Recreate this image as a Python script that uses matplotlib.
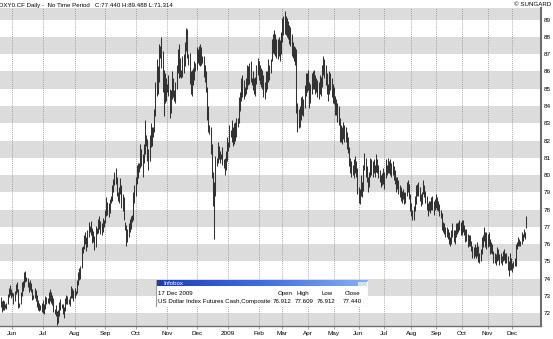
import matplotlib.pyplot as plt
import numpy as np
import pandas as pd
from matplotlib.patches import Rectangle
from matplotlib.colors import LinearSegmentedColormap

plt.rcParams['font.family'] = ['Liberation Sans', 'DejaVu Sans']

# daily bars, low / high per month (2008 has Sunday sessions, 2009 weekdays only)
lo_may08 = [72.35, 72.05, 72.20, 72.15, 72.30, 72.25, 72.55, 72.95, 73.05, 72.85]
hi_may08 = [72.95, 72.70, 72.75, 72.70, 72.50, 72.60, 73.10, 73.45, 73.65, 73.40]
lo_jun08 = [73.00, 72.55, 72.70, 73.10, 73.20, 72.30, 72.35, 72.50, 73.00, 73.30, 73.50, 73.80, 73.85,
            73.50, 73.20, 73.35, 73.20, 72.75, 72.80, 72.90, 72.70, 72.35, 72.20, 72.10, 72.20, 72.05]
hi_jun08 = [73.20, 73.15, 73.30, 73.70, 73.80, 73.40, 72.60, 73.20, 73.80, 73.85, 74.40, 74.45, 74.10,
            74.05, 73.80, 73.90, 73.75, 73.40, 73.05, 73.45, 73.35, 73.05, 72.75, 72.60, 72.45, 72.60]
lo_jul08 = [72.00, 71.95, 72.25, 72.55, 72.60, 72.55, 72.70, 72.60, 72.45, 72.05, 71.95, 71.85, 71.31, 71.45,
            71.85, 72.20, 72.30, 71.95, 71.70, 72.10, 72.55, 72.50, 72.55, 72.40, 72.85, 72.90, 72.70]
hi_jul08 = [72.75, 72.55, 73.00, 72.95, 72.85, 73.20, 73.40, 73.20, 73.05, 72.85, 72.25, 72.45, 72.10, 72.20,
            72.65, 72.80, 72.55, 72.50, 72.35, 72.85, 73.05, 73.00, 72.80, 73.00, 73.55, 73.45, 73.35]
lo_aug08 = [72.85, 73.05, 73.15, 73.60, 73.90, 74.00, 74.60, 75.50, 75.70, 76.00, 75.60, 75.80, 76.40,
            76.70, 76.55, 76.05, 76.10, 75.65, 75.85, 76.60, 76.65, 76.90, 76.60, 76.50, 76.70, 77.00]
hi_aug08 = [73.45, 73.30, 73.90, 74.40, 74.60, 74.70, 75.85, 75.90, 76.55, 76.70, 76.40, 76.80, 77.30,
            77.05, 77.35, 76.95, 76.75, 76.45, 77.05, 76.95, 77.45, 77.60, 77.35, 77.20, 77.50, 77.40]
lo_sep08 = [77.20, 77.60, 77.70, 77.55, 77.80, 78.40, 78.50, 79.00, 79.40, 79.50, 78.80, 78.50, 78.40,
            78.90, 78.10, 77.90, 77.40, 76.80, 75.90, 76.10, 76.40, 76.70, 76.90, 77.30, 77.40, 78.40]
hi_sep08 = [77.95, 78.70, 78.45, 78.35, 78.60, 78.80, 79.40, 79.75, 80.15, 80.40, 79.90, 79.00, 79.30,
            79.80, 79.40, 78.90, 78.70, 77.30, 77.10, 76.90, 77.20, 77.45, 77.60, 77.70, 79.00, 79.40]
lo_oct08 = [78.80, 79.50, 79.80, 80.20, 80.40, 80.50, 79.90, 80.70, 81.20, 81.70, 80.80, 80.30, 80.80, 81.60,
            81.70, 82.20, 82.50, 83.40, 84.60, 84.70, 85.40, 86.80, 86.20, 84.80, 83.40, 84.20, 84.30]
hi_oct08 = [79.90, 80.60, 80.70, 80.70, 81.80, 81.50, 81.20, 81.80, 83.20, 82.30, 82.10, 81.50, 82.30, 83.00,
            82.80, 82.80, 83.80, 85.40, 86.70, 86.30, 87.60, 87.50, 88.00, 87.20, 86.10, 85.90, 85.60]
lo_nov08 = [84.80, 84.60, 83.30, 83.60, 84.40, 84.50, 84.30, 84.20, 85.00, 85.90, 85.60, 85.70, 85.60,
            85.70, 85.90, 86.30, 87.20, 86.80, 86.40, 85.30, 84.70, 84.60, 85.20, 85.50, 86.00]
hi_nov08 = [85.30, 85.80, 85.00, 84.90, 86.00, 85.60, 84.90, 85.40, 86.40, 87.30, 87.60, 86.80, 86.10,
            86.90, 87.00, 87.70, 88.50, 88.46, 87.00, 87.10, 86.00, 86.10, 86.20, 86.60, 86.50]
lo_dec08 = [86.10, 86.50, 86.40, 86.30, 86.40, 86.50, 85.70, 85.40, 84.80, 83.20, 82.50, 82.40, 81.20, 79.80,
            78.20, 76.30, 78.80, 80.50, 80.70, 80.90, 80.70, 80.90, 80.60, 80.40, 80.00, 80.30, 80.80]
hi_dec08 = [87.40, 87.30, 87.50, 87.60, 87.40, 86.90, 86.90, 86.40, 86.00, 85.10, 84.00, 82.90, 82.80, 81.80,
            80.20, 79.60, 81.10, 81.00, 81.90, 81.70, 81.40, 81.20, 81.60, 80.90, 81.00, 81.40, 82.20]
lo_jan09 = [81.40, 81.60, 82.20, 81.90, 81.70, 81.80, 82.00, 82.20, 82.80, 83.00, 83.70, 84.30, 84.50,
            84.40, 84.60, 84.70, 85.00, 85.20, 85.30, 85.40, 85.20, 84.90, 84.70, 84.60, 85.30, 85.80]
hi_jan09 = [81.90, 82.90, 82.60, 83.20, 82.80, 83.00, 83.10, 83.30, 83.30, 84.50, 84.80, 85.60, 85.80,
            85.50, 85.10, 85.60, 86.40, 86.30, 86.50, 86.60, 85.60, 86.00, 85.60, 85.70, 86.40, 86.80]
lo_feb09 = [85.50, 85.30, 85.10, 85.00, 84.50, 84.40, 84.80, 85.00, 85.40, 85.50,
            85.90, 86.60, 87.10, 87.00, 86.90, 86.80, 86.70, 86.90, 86.60, 87.00]
hi_feb09 = [86.60, 86.40, 86.20, 86.10, 85.80, 85.40, 86.00, 86.00, 86.70, 86.40,
            86.70, 87.90, 88.20, 88.40, 88.20, 87.90, 87.90, 88.00, 87.80, 88.30]
lo_mar09 = [87.70, 88.10, 88.20, 88.10, 88.00, 87.90, 87.60, 87.50, 86.90, 86.80, 86.60,
            86.40, 83.60, 82.50, 82.70, 82.80, 83.20, 83.50, 83.40, 83.90, 84.60, 84.80]
hi_mar09 = [89.10, 89.20, 89.49, 89.20, 89.10, 88.90, 88.70, 88.60, 88.20, 87.70, 87.50,
            87.40, 87.30, 84.20, 83.80, 84.00, 84.50, 84.60, 84.40, 85.20, 85.90, 85.90]
lo_apr09 = [84.90, 83.90, 84.20, 84.70, 85.00, 85.00, 84.70, 84.80, 84.50, 84.40, 84.70,
            84.60, 85.10, 85.80, 85.60, 85.20, 84.70, 84.30, 84.70, 84.90, 84.50, 84.20]
hi_apr09 = [86.10, 85.40, 85.30, 85.90, 86.00, 86.10, 85.80, 85.60, 85.50, 85.40, 85.80,
            85.70, 86.40, 86.90, 86.70, 86.40, 85.90, 85.30, 86.00, 85.90, 85.60, 85.30]
lo_may09 = [84.10, 83.50, 83.50, 83.10, 82.90, 81.90, 81.90, 81.80, 82.10, 81.90, 81.90,
            81.50, 81.30, 80.50, 80.10, 79.90, 80.00, 79.80, 80.10, 79.90, 78.90]
hi_may09 = [85.10, 84.60, 84.40, 84.20, 84.00, 83.30, 82.90, 82.80, 83.10, 82.90, 82.80,
            82.50, 82.20, 81.60, 81.00, 80.80, 80.60, 80.90, 81.10, 80.80, 80.40]
lo_jun09 = [78.40, 78.30, 78.80, 78.70, 79.10, 80.30, 79.90, 79.60, 79.00, 79.30, 79.90,
            80.00, 79.90, 80.10, 79.90, 80.20, 80.10, 79.80, 79.60, 79.30, 79.40, 79.50]
hi_jun09 = [79.30, 79.20, 80.00, 79.60, 80.60, 81.30, 81.00, 80.50, 79.90, 80.20, 81.00,
            80.90, 80.80, 80.90, 80.60, 81.20, 80.90, 80.60, 80.30, 80.00, 80.10, 80.40]
lo_jul09 = [79.20, 79.80, 80.00, 80.10, 80.10, 80.00, 79.90, 80.00, 79.70, 79.50, 79.00, 79.20,
            78.90, 78.70, 78.50, 78.40, 78.60, 78.30, 78.40, 78.80, 79.00, 78.60, 77.90]
hi_jul09 = [80.20, 80.90, 80.60, 81.00, 80.80, 80.90, 80.70, 80.80, 80.50, 80.30, 79.90, 79.90,
            79.70, 79.40, 79.30, 79.10, 79.20, 79.00, 79.00, 79.60, 79.70, 79.50, 78.90]
lo_aug09 = [77.60, 77.40, 77.40, 77.90, 78.30, 78.80, 78.80, 78.50, 78.20, 78.30, 78.90,
            78.70, 78.40, 78.00, 77.60, 77.90, 77.80, 78.00, 78.00, 77.70, 78.00]
hi_aug09 = [78.40, 78.00, 78.20, 78.80, 79.40, 79.50, 79.60, 79.30, 78.90, 79.00, 79.70,
            79.40, 79.10, 78.80, 78.40, 78.50, 78.50, 78.70, 78.80, 78.50, 78.60]
lo_sep09 = [78.10, 78.00, 77.90, 77.60, 77.50, 76.80, 76.70, 76.60, 76.40, 76.40, 76.30,
            76.00, 75.90, 76.00, 76.40, 76.10, 76.00, 76.40, 76.60, 76.70, 76.80, 76.50]
hi_sep09 = [78.90, 78.70, 78.50, 78.30, 78.00, 77.80, 77.30, 77.20, 77.00, 77.00, 76.90,
            76.70, 76.40, 76.80, 77.20, 76.80, 76.80, 77.20, 77.20, 77.30, 77.40, 77.30]
lo_oct09 = [76.50, 76.70, 76.50, 76.10, 76.20, 75.80, 75.90, 75.90, 75.60, 75.20, 75.20,
            75.30, 75.20, 75.30, 74.95, 74.90, 75.00, 75.40, 75.80, 76.20, 75.80, 75.70]
hi_oct09 = [77.40, 77.40, 77.10, 76.90, 76.90, 76.60, 76.50, 76.50, 76.20, 75.90, 75.80,
            76.00, 75.80, 76.10, 75.90, 75.50, 75.70, 76.40, 76.50, 77.00, 76.70, 76.70]
lo_nov09 = [75.80, 75.90, 75.40, 75.50, 75.40, 74.90, 74.90, 74.80, 75.00, 75.10, 74.80,
            74.90, 74.80, 75.00, 75.10, 74.90, 74.90, 74.50, 74.17, 74.50, 74.50]
hi_nov09 = [76.60, 76.70, 76.30, 76.10, 76.00, 75.60, 75.50, 75.40, 75.80, 75.70, 75.40,
            75.50, 75.30, 75.60, 75.70, 75.50, 75.50, 75.30, 75.00, 75.50, 75.20]
lo_dec09 = [74.40, 74.60, 74.70, 74.70, 75.70, 75.90, 75.90, 75.90, 76.00, 76.20, 76.40, 76.30, 76.912]
hi_dec09 = [74.90, 75.00, 75.20, 76.00, 76.10, 76.40, 76.30, 76.20, 76.70, 76.60, 76.90, 76.70, 77.609]

lows = (lo_may08 + lo_jun08 + lo_jul08 + lo_aug08 + lo_sep08 + lo_oct08 + lo_nov08 + lo_dec08 +
        lo_jan09 + lo_feb09 + lo_mar09 + lo_apr09 + lo_may09 + lo_jun09 + lo_jul09 + lo_aug09 +
        lo_sep09 + lo_oct09 + lo_nov09 + lo_dec09)
highs = (hi_may08 + hi_jun08 + hi_jul08 + hi_aug08 + hi_sep08 + hi_oct08 + hi_nov08 + hi_dec08 +
         hi_jan09 + hi_feb09 + hi_mar09 + hi_apr09 + hi_may09 + hi_jun09 + hi_jul09 + hi_aug09 +
         hi_sep09 + hi_oct09 + hi_nov09 + hi_dec09)

title = 'DXY0.CF Daily -  No Time Period   C:77.440 H:89.488 L:71.314'
info_date = '17 Dec 2009'
info_name = 'US Dollar Index Futures Cash,Composite'
info_cols = ['Open', 'High', 'Low', 'Close']
info_vals = ['76.912', '77.609', '76.912', '77.440']

# bar dates
d1 = pd.date_range('2008-05-20', '2009-01-31')
d1 = d1[d1.dayofweek != 5]
d2 = pd.bdate_range('2009-02-01', '2009-12-17')
dates = d1.append(d2)
n = min(len(dates), len(highs), len(lows))
dates = dates[:n]
x = np.arange(n)

W, H = 553, 339
fs = 4.4
fig = plt.figure(figsize=(W / 100, H / 100), dpi=100)
ax = fig.add_axes([0, 13 / H, 541 / W, 318 / H])

# alternating bands
for v in range(71, 90, 2):
    ax.axhspan(v, v + 1, color='#dcdcdc', lw=0, zorder=0)

ax.vlines(x, lows[:n], highs[:n], color='#333333', lw=0.75, zorder=3)

ax.set_xlim(-0.5, 460.5)
ax.set_ylim(71.25, 89.68)

# month ticks
pos, labs = [], []
for i in range(1, n):
    if dates[i].month != dates[i - 1].month:
        pos.append(i)
        labs.append('2009' if dates[i].month == 1 else dates[i].strftime('%b'))
ax.set_xticks(pos)
ax.set_xticklabels(labs)
ax.grid(axis='x', color='#8c8c8c', lw=0.6, ls=(0, (1, 1.5)))

ax.yaxis.tick_right()
ax.set_yticks(range(72, 90))
ax.tick_params(axis='x', length=2.5, width=0.5, color='#777777', labelsize=fs + 0.2, pad=1.2)
ax.tick_params(axis='y', length=0, labelsize=fs + 0.2, pad=2)

for s in ['top', 'left']:
    ax.spines[s].set_visible(False)
ax.spines['right'].set_color('#6e6e6e')
ax.spines['right'].set_linewidth(1.5)
ax.spines['bottom'].set_color('#6e6e6e')
ax.spines['bottom'].set_linewidth(1.0)

fig.text(-0.002, 1 - 5 / H, title, fontsize=fs, va='center', ha='left')
fig.text(551 / W, 1 - 5 / H, '\u00a9 SUNGARD', fontsize=fs, va='center', ha='right')

# info box
ib = fig.add_axes([156 / W, 1 - 307 / H, 212 / W, 27 / H])
ib.add_patch(Rectangle((0, 0), 212, 27, facecolor='white', edgecolor='#a0a0a0', lw=0.8, zorder=1))
tb = LinearSegmentedColormap.from_list('tb', ['#1c3fb8', '#3f6ee0', '#86aef0'])
ib.imshow(np.linspace(0, 1, 100).reshape(1, -1), cmap=tb, extent=(1, 211, 6.3, 0.8),
          aspect='auto', zorder=2)
ib.set_xlim(0, 212)
ib.set_ylim(27, 0)
ib.axis('off')
ib.text(7, 3.6, 'Infobox', color='white', fontsize=fs, va='center', zorder=3)
for bx in [201.5, 206]:
    ib.add_patch(Rectangle((bx, 1.6), 3.8, 3.8, facecolor='#d8d8d8', edgecolor='#ffffff', lw=0.4, zorder=3))
ib.text(1.8, 13.3, info_date, fontsize=fs, va='center')
ib.text(1.8, 21.7, info_name, fontsize=fs, va='center')
for cx, c in zip([121.7, 140.7, 165.7, 189], info_cols):
    ib.text(cx, 13.3, c, fontsize=fs, va='center')
for vx, v in zip([116.5, 138.8, 161, 187], info_vals):
    ib.text(vx, 21.7, v, fontsize=fs, va='center')

fig.savefig('out.png', dpi=100)
